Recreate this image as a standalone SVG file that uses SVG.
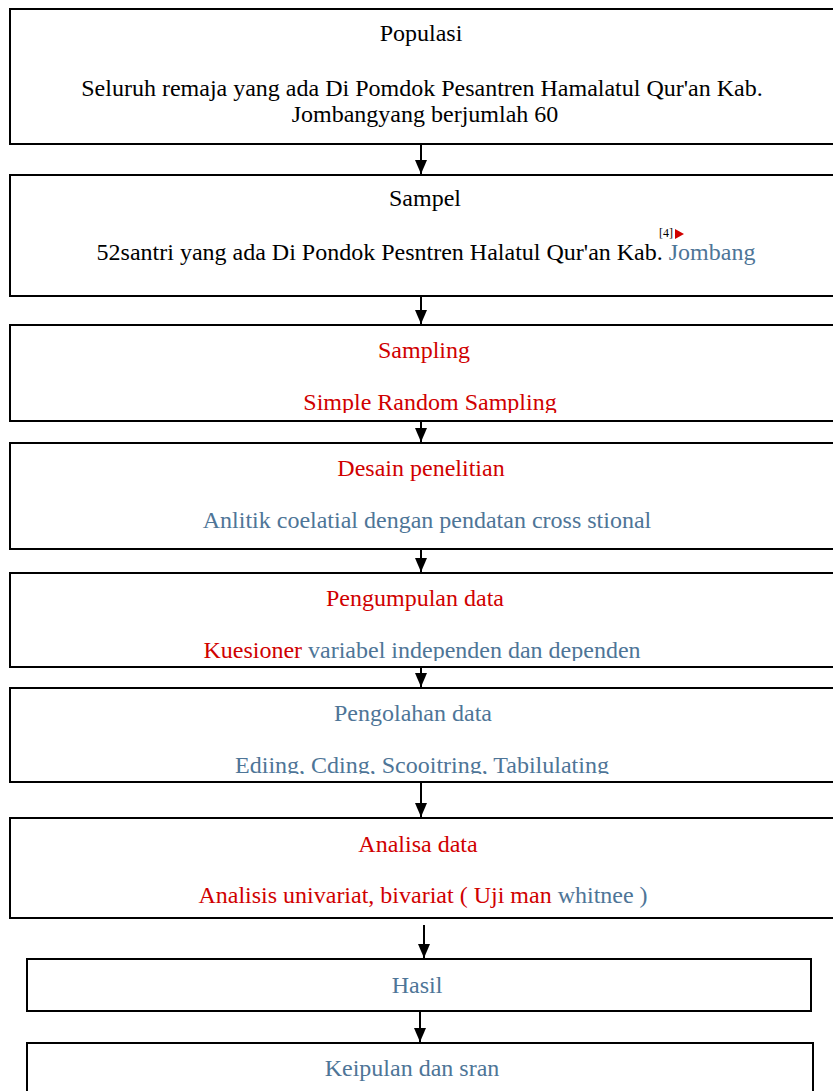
<svg xmlns="http://www.w3.org/2000/svg" width="833" height="1091" viewBox="0 0 833 1091">
<style>
.box{fill:#fff;stroke:#000;stroke-width:2}
text{font-family:"Liberation Serif","Times New Roman",serif;font-size:24px;text-anchor:middle}
.k{fill:#000}
.r{fill:#d00000}
.b{fill:#4e7597}
.sm{font-size:12px}
.con line{stroke:#000;stroke-width:2}
</style>
<defs>
<marker id="ah" markerWidth="14" markerHeight="12" refX="14" refY="6" orient="auto" markerUnits="userSpaceOnUse" viewBox="0 0 14 12">
<path d="M0,0 L14,6 L0,12 Z" fill="#000"/>
</marker>
<clipPath id="c3"><rect x="0" y="325" width="833" height="88"/></clipPath>
<clipPath id="c5"><rect x="0" y="573" width="833" height="88"/></clipPath>
<clipPath id="c6"><rect x="0" y="688" width="833" height="86"/></clipPath>
</defs>
<rect width="833" height="1091" fill="#fff"/>
<g id="populasi">
<rect class="box" x="10" y="9" width="840" height="135"/>
<text class="k" x="421" y="41">Populasi</text>
<text class="k" x="422" y="96">Seluruh remaja yang ada Di Pomdok Pesantren Hamalatul Qur'an Kab.</text>
<text class="k" x="425" y="122">Jombangyang berjumlah 60</text>
</g>
<g id="sampel">
<rect class="box" x="10" y="175" width="840" height="121"/>
<text class="k" x="425" y="206">Sampel</text>
<text x="426" y="260"><tspan class="k">52santri yang ada Di Pondok Pesntren Halatul Qur'an Kab. </tspan><tspan class="b">Jombang</tspan></text>
<text class="k sm" x="666" y="237">[4]</text>
<path d="M675,229 L684,234 L675,239 Z" fill="#d00000"/>
</g>
<g id="sampling">
<rect class="box" x="10" y="325" width="840" height="96"/>
<text class="r" x="424" y="358">Sampling</text>
<g clip-path="url(#c3)"><text class="r" x="430" y="410">Simple Random Sampling</text></g>
</g>
<g id="desain">
<rect class="box" x="10" y="443" width="840" height="106"/>
<text class="r" x="421" y="476">Desain penelitian</text>
<text class="b" x="427" y="528">Anlitik coelatial dengan pendatan cross stional</text>
</g>
<g id="pengumpulan">
<rect class="box" x="10" y="573" width="840" height="94"/>
<text class="r" x="415" y="606">Pengumpulan data</text>
<g clip-path="url(#c5)"><text x="422" y="658"><tspan class="r">Kuesioner </tspan><tspan class="b">variabel independen dan dependen</tspan></text></g>
</g>
<g id="pengolahan">
<rect class="box" x="10" y="688" width="840" height="94"/>
<text class="b" x="413" y="721">Pengolahan data</text>
<g clip-path="url(#c6)"><text class="b" x="422" y="773">Ediing, Cding, Scooitring, Tabilulating</text></g>
</g>
<g id="analisa">
<rect class="box" x="10" y="818" width="840" height="100"/>
<text class="r" x="418" y="852">Analisa data</text>
<text x="423" y="903"><tspan class="r">Analisis univariat, bivariat ( Uji man </tspan><tspan class="b">whitnee )</tspan></text>
</g>
<g id="hasil">
<rect class="box" x="27" y="959" width="784" height="52"/>
<text class="b" x="417" y="993">Hasil</text>
</g>
<g id="kesimpulan">
<rect class="box" x="27" y="1043" width="786" height="60"/>
<text class="b" x="412" y="1076">Keipulan dan sran</text>
</g>
<g id="connectors" class="con">
<line x1="421" y1="144" x2="421" y2="174" marker-end="url(#ah)"/>
<line x1="421" y1="296" x2="421" y2="324" marker-end="url(#ah)"/>
<line x1="421" y1="421" x2="421" y2="442" marker-end="url(#ah)"/>
<line x1="421" y1="549" x2="421" y2="572" marker-end="url(#ah)"/>
<line x1="421" y1="667" x2="421" y2="687" marker-end="url(#ah)"/>
<line x1="421" y1="782" x2="421" y2="817" marker-end="url(#ah)"/>
<line x1="424" y1="925" x2="424" y2="958" marker-end="url(#ah)"/>
<line x1="420" y1="1011" x2="420" y2="1042" marker-end="url(#ah)"/>
</g>
</svg>
